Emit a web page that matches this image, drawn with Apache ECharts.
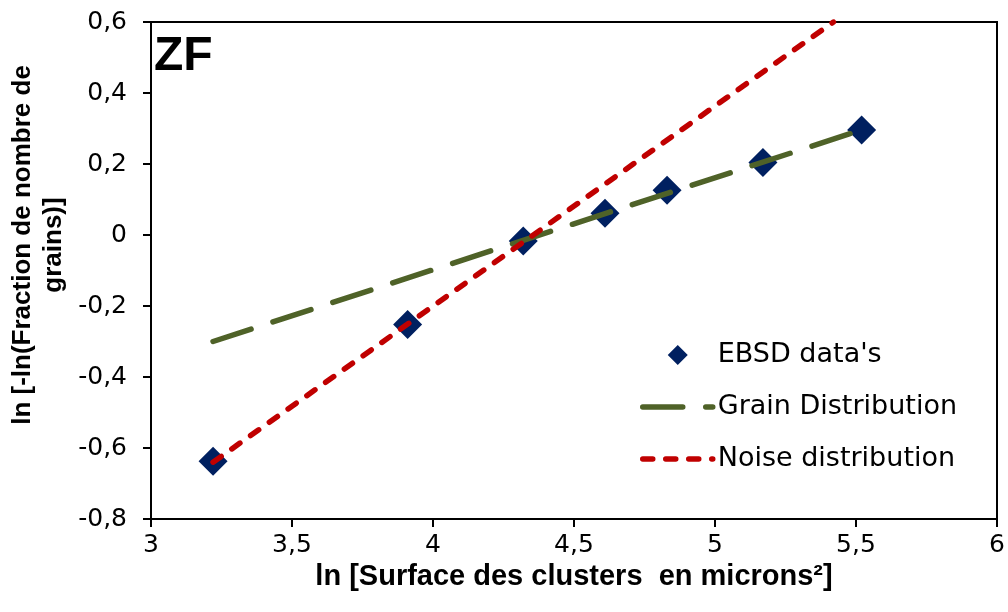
<!DOCTYPE html>
<html>
<head>
<meta charset="utf-8">
<script src="https://cdn.jsdelivr.net/npm/echarts@6/dist/echarts.min.js"></script>
<style>
  html, body { margin: 0; padding: 0; background: #fff; }
  #chart { width: 1008px; height: 612px; }
</style>
</head>
<body>
<div id="chart"></div>
<script>
// EBSD points (ln surface, ln[-ln(fraction)])
var ebsdX = [3.22, 3.91, 4.32, 4.61, 4.83, 5.17, 5.52];
var ebsdY = [-0.637, -0.252, -0.017, 0.061, 0.126, 0.204, 0.296];

// fitted lines, given by their two end points
var grainLine = [[3.22, -0.30], [5.52, 0.296]];
var noiseLine = [[3.22, -0.64], [5.42, 0.60]];

var seriesNames = ["EBSD data's", 'Grain Distribution', 'Noise distribution'];

var ebsdData = [];
for (var i = 0; i < ebsdX.length; i++) {
    ebsdData.push([ebsdX[i], ebsdY[i]]);
}

// virgule décimale
function fmt(v) {
    return String(Math.round(v * 10) / 10).replace('.', ',');
}

var chart = echarts.init(document.getElementById('chart'));

chart.setOption({
    animation: false,
    backgroundColor: '#fff',
    grid: {
        left: 151, right: 11, top: 22, bottom: 93,
        show: true,
        borderColor: '#000',
        borderWidth: 2
    },
    xAxis: {
        type: 'value',
        min: 3, max: 6, interval: 0.5,
        splitLine: { show: false },
        axisLine: { onZero: false, lineStyle: { color: '#000', width: 2 } },
        axisTick: { inside: false, length: 8, lineStyle: { color: '#000', width: 2 } },
        axisLabel: {
            formatter: fmt, margin: 14,
            color: '#000', fontFamily: 'DejaVu Sans', fontSize: 25
        },
        name: 'ln [Surface des clusters  en microns²]',
        nameLocation: 'middle',
        nameGap: 40,
        nameTextStyle: {
            color: '#000', fontFamily: 'Liberation Sans', fontWeight: 'bold', fontSize: 29
        }
    },
    yAxis: {
        type: 'value',
        min: -0.8, max: 0.6, interval: 0.2,
        splitLine: { show: false },
        axisLine: { onZero: false, lineStyle: { color: '#000', width: 2 } },
        axisTick: { inside: false, length: 8, lineStyle: { color: '#000', width: 2 } },
        axisLabel: {
            formatter: fmt, margin: 24,
            color: '#000', fontFamily: 'DejaVu Sans', fontSize: 25
        }
    },
    legend: {
        orient: 'vertical',
        left: 640,
        top: 340,
        padding: 0,
        itemWidth: 70,
        itemHeight: 20,
        itemGap: 22,
        symbolKeepAspect: true,
        data: [
            { name: seriesNames[0], icon: 'path://M10,0L20,10L10,20L0,10Z' },
            { name: seriesNames[1], itemStyle: { opacity: 0 } },
            { name: seriesNames[2], itemStyle: { opacity: 0 } }
        ],
        lineStyle: { width: 'inherit' },
        textStyle: { color: '#000', fontFamily: 'DejaVu Sans', fontSize: 27, lineHeight: 30 }
    },
    graphic: [
        {
            type: 'text', left: 154, top: 33,
            style: { text: 'ZF', fill: '#000', font: 'bold 48px "Liberation Sans"' }
        },
        {
            type: 'text', x: 38, y: 245, rotation: Math.PI / 2,
            style: {
                text: 'ln [-ln(Fraction de nombre de\ngrains)]',
                fill: '#000',
                font: 'bold 26px "Liberation Sans"',
                align: 'center', verticalAlign: 'middle', lineHeight: 31
            }
        }
    ],
    series: [
        {
            name: seriesNames[1],
            type: 'line',
            data: grainLine,
            symbol: 'none',
            lineStyle: { color: '#4F6228', width: 5.5, type: [40, 23], cap: 'round' },
            itemStyle: { color: '#4F6228' }
        },
        {
            name: seriesNames[2],
            type: 'line',
            data: noiseLine,
            symbol: 'none',
            lineStyle: { color: '#C00000', width: 5.5, type: [10, 13], cap: 'round' },
            itemStyle: { color: '#C00000' }
        },
        {
            name: seriesNames[0],
            type: 'scatter',
            data: ebsdData,
            symbol: 'diamond',
            symbolSize: 29,
            itemStyle: { color: '#002060', opacity: 1 }
        }
    ]
});
</script>
</body>
</html>
